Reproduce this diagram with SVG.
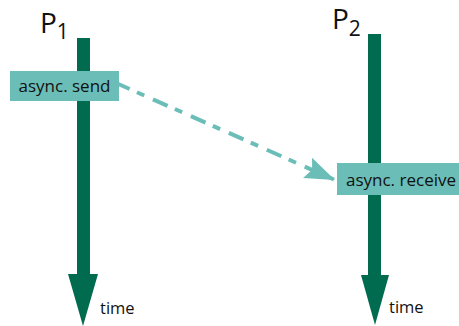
<svg xmlns="http://www.w3.org/2000/svg" width="459" height="326" viewBox="0 0 459 326">
<style>
.life{fill:#006B4F}
.box{fill:#6BBDB7}
.lbl{font-family:"Open Sans","Liberation Sans",sans-serif;font-size:17px;fill:#111}
.tm{font-family:"Open Sans","Liberation Sans",sans-serif;font-size:16.5px;fill:#111}
.pt{font-family:"Open Sans","Liberation Sans",sans-serif;fill:#111}
.msg{stroke:#6BBDB7;stroke-width:4;fill:none;stroke-dasharray:16 8 8 9.5}
</style>
<defs>
<marker id="ah" markerUnits="userSpaceOnUse" markerWidth="32" markerHeight="26" refX="30" refY="13" orient="auto" viewBox="0 0 32 26">
<path d="M0,2 L30,13 L0,24 L5,13 Z" fill="#6BBDB7"/>
</marker>
</defs>
<g id="P1">
<rect class="life" x="77" y="38" width="13" height="237"/>
<polygon class="life" points="68,274 98,274 83,326"/>
<text class="pt" x="40" y="33" font-size="28">P<tspan font-size="21" dy="6">1</tspan></text>
<text class="tm" x="100" y="314">time</text>
</g>
<g id="P2">
<rect class="life" x="368" y="34" width="13" height="242"/>
<polygon class="life" points="361,275 389,275 375,325"/>
<text class="pt" x="332" y="29" font-size="28">P<tspan font-size="21" dy="7">2</tspan></text>
<text class="tm" x="389" y="313">time</text>
</g>
<g id="connectors">
<line class="msg" x1="115" y1="82.5" x2="335" y2="180" marker-end="url(#ah)"/>
</g>
<g id="send">
<rect class="box" x="10" y="71" width="109" height="30"/>
<text class="lbl" x="64.5" y="92" text-anchor="middle">async. send</text>
</g>
<g id="receive">
<rect class="box" x="337" y="163" width="122" height="32"/>
<text class="lbl" x="401" y="186" text-anchor="middle">async. receive</text>
</g>
</svg>
